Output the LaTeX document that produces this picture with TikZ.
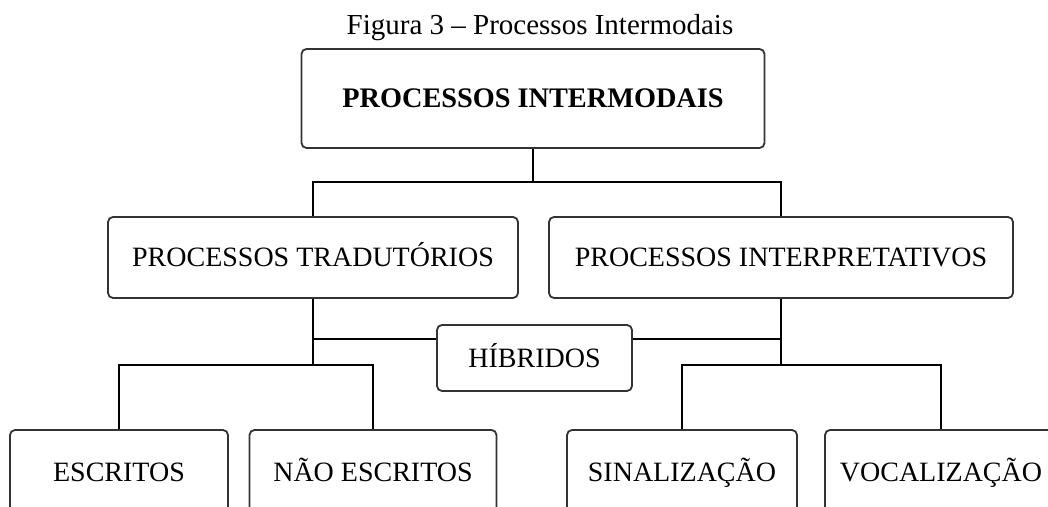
\documentclass[tikz,border=0pt]{standalone}
\usepackage{fontspec}
\setmainfont{Liberation Serif}
\tikzset{>=stealth}
\tikzset{caixa/.style={draw=black!80, line width=1.8pt, rounded corners=5pt, fill=white,
  inner sep=0pt, text height=18.5pt, text depth=0pt, font=\fontsize{28}{30}\selectfont},
  liga/.style={line width=1.5pt}}

\begin{document}
\begin{tikzpicture}[x=1pt, y=1pt]
\useasboundingbox (0,0) rectangle (1048,506);
\clip (0,0) rectangle (1048,506);
\node[anchor=base, font=\fontsize{29}{31}\selectfont] (titulo) at (540,471) {Figura 3 -- Processos Intermodais};
\node[caixa, minimum width=463pt, minimum height=99pt, font=\fontsize{28.3}{30}\selectfont\bfseries] (inter) at (533,407.5) {PROCESSOS INTERMODAIS};
\node[caixa, minimum width=410pt, minimum height=81pt] (trad) at (313,248.5) {PROCESSOS TRADUTÓRIOS};
\node[caixa, minimum width=464pt, minimum height=81pt] (interp) at (781,248.5) {PROCESSOS INTERPRETATIVOS};
\node[caixa, minimum width=195pt, minimum height=66pt] (hib) at (534.5,148) {HÍBRIDOS};
\node[caixa, minimum width=218pt, minimum height=84pt] (escr) at (119,34) {ESCRITOS};
\node[caixa, minimum width=247pt, minimum height=84pt] (naoescr) at (373,34) {NÃO ESCRITOS};
\node[caixa, minimum width=230pt, minimum height=84pt] (sinal) at (682,34) {SINALIZAÇÃO};
\node[caixa, minimum width=232pt, minimum height=84pt] (vocal) at (941,34) {VOCALIZAÇÃO};
\coordinate (j1) at (533,324);
\coordinate (j2) at (313,141);
\coordinate (j3) at (781,141);
\draw[liga] (inter.south) -- (j1);
\draw[liga] (trad.north) |- (j1) -| (interp.north);
\draw[liga] (trad.south) -- (j2);
\draw[liga] (interp.south) -- (j3);
\draw[liga] (trad.south) |- (hib.169);
\draw[liga] (interp.south) |- (hib.11);
\draw[liga] (escr.north) |- (j2) -| (naoescr.north);
\draw[liga] (sinal.north) |- (j3) -| (vocal.north);
\end{tikzpicture}
\end{document}
